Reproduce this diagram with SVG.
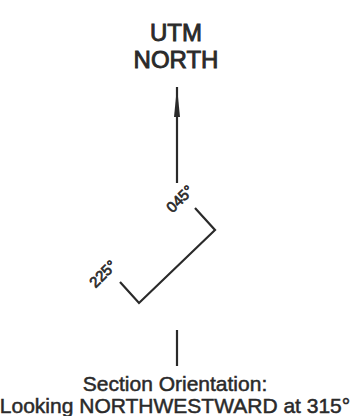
<svg xmlns="http://www.w3.org/2000/svg" width="350" height="416" viewBox="0 0 350 416">
  <style>
    .t { font-family: "Liberation Sans", Arial, sans-serif; fill: #2a2a2a; stroke: #2a2a2a; text-anchor: middle; }
    .big { font-size: 24px; stroke-width: 0.9; }
    .sm { font-size: 15px; stroke-width: 0.7; }
    .cap { font-size: 21px; stroke-width: 0.5; }
    .ln { stroke: #2a2a2a; stroke-width: 2.2; fill: none; }
  </style>
  <defs>
    <marker id="ah" viewBox="0 0 10 10" refX="10" refY="5" markerWidth="30" markerHeight="6" markerUnits="userSpaceOnUse" orient="auto" preserveAspectRatio="none">
      <path d="M0,0 L10,5 L0,10 Z" fill="#2a2a2a"/>
    </marker>
  </defs>
  <rect width="350" height="416" fill="#ffffff"/>
  <g id="north-label">
    <text class="t big" x="176" y="41">UTM</text>
    <text class="t big" x="176" y="68">NORTH</text>
  </g>
  <g id="connectors">
    <line class="ln" x1="177" y1="183" x2="177" y2="87" marker-end="url(#ah)"/>
    <line class="ln" x1="177" y1="330" x2="177" y2="366"/>
  </g>
  <g id="section-line">
    <polyline class="ln" points="195,208 215,230 139,303 120,282"/>
    <text class="t sm" transform="translate(180,199) rotate(-45)" x="0" y="5">045°</text>
    <text class="t sm" transform="translate(103,274) rotate(-45)" x="0" y="5">225°</text>
  </g>
  <g id="caption">
    <text class="t cap" x="175" y="391">Section Orientation:</text>
    <text class="t cap" x="175" y="413">Looking NORTHWESTWARD at 315°</text>
  </g>
</svg>
